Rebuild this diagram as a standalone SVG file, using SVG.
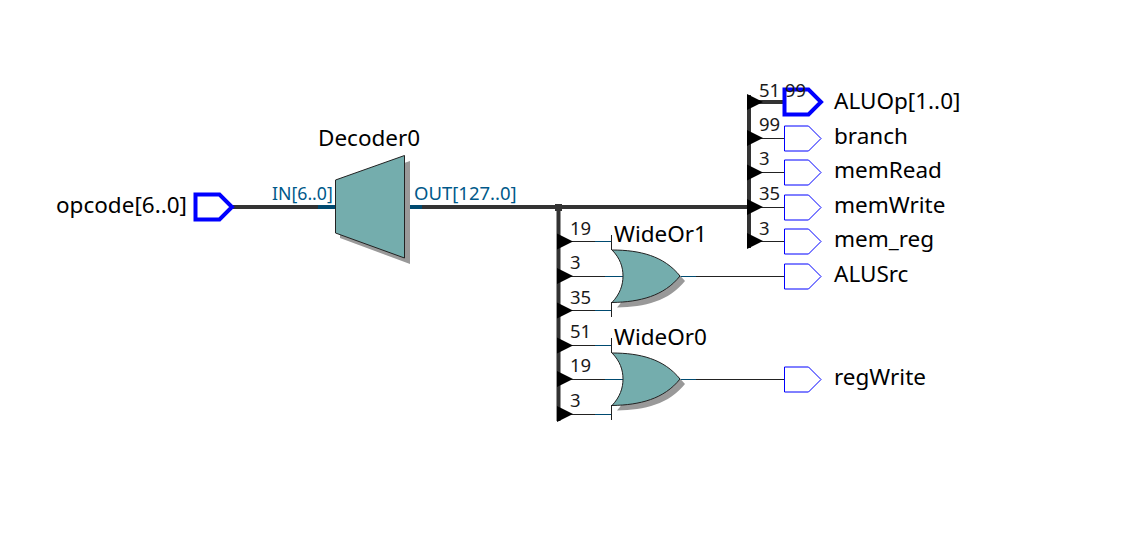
<svg xmlns="http://www.w3.org/2000/svg" width="1128" height="552" viewBox="0 0 1128 552">
<defs>
<style>
text{font-family:"Noto Sans","Open Sans","Liberation Sans",sans-serif}
.n{font-size:22.500px;fill:#000}
.b{font-size:18.500px;fill:#1a1a1a}
.p{font-size:18.500px;fill:#00598a}
.bus{stroke:#333;stroke-width:4;fill:none}
.bp{stroke:#004a70;stroke-width:4;fill:none}
.w{stroke:#222;stroke-width:1;fill:none}
.wp{stroke:#004a70;stroke-width:1;fill:none}
.port{fill:#fff;stroke:#0000ff;stroke-width:1}
.portb{fill:#fff;stroke:#0000ff;stroke-width:4}
.gate{fill:#74adad;stroke:#222;stroke-width:1}
.sh{fill:#999}
.st{stroke:#222;stroke-width:1;fill:none}
</style>
<polygon id="t" points="0,-8 16,0 0,8" fill="#000"/>
<path id="or" d="M0,0C28,0 52,6 68,26C52,46 28,52 0,52.500C8,44 11,35 11,26C11,17 8,8 0,0Z"/>
<polygon id="pt" points="0,-12.500 24,-12.500 36.500,0 24,12.500 0,12.500"/>
</defs>
<g id="connectors">
<path class="bus" d="M232,207H749M749,95V248M558.500,207V421M749,102H784"/>
<path class="bp" d="M318,207H335M404,207H422"/>
<path class="w" d="M749,138.500H784M749,172.500H784M749,207.500H784M749,241.500H784M558,241.500H612M558,276.500H623M558,310.500H612M558,345.500H612M558,379.500H623M558,414.500H612M680,276.500H784M680,379.500H784"/>
<path class="wp" d="M595,241.500H612M605,276.500H623M595,310.500H612M595,345.500H612M605,379.500H623M595,414.500H612M680,276.500H696M680,379.500H696"/>
<path class="st" d="M611.500,235V250M611.500,302V317M611.500,338V353M611.500,405V420"/>
<rect x="555" y="204" width="7" height="7" fill="#333"/>
<use href="#t" x="747" y="102"/><use href="#t" x="747" y="138"/><use href="#t" x="747" y="172.500"/><use href="#t" x="747" y="207"/><use href="#t" x="747" y="241"/>
<use href="#t" x="557" y="241.500"/><use href="#t" x="557" y="276"/><use href="#t" x="557" y="310.500"/><use href="#t" x="557" y="345.500"/><use href="#t" x="557" y="379"/><use href="#t" x="557" y="414"/>
<text class="b" x="759" y="97">51</text>
<text class="b" x="759" y="131">99</text><text class="b" x="759" y="165">3</text><text class="b" x="759" y="200">35</text><text class="b" x="759" y="235">3</text>
<text class="b" x="570" y="235">19</text><text class="b" x="570" y="269">3</text><text class="b" x="570" y="304">35</text><text class="b" x="570" y="338">51</text><text class="b" x="570" y="372">19</text><text class="b" x="570" y="407">3</text>
</g>
<g id="opcode"><use href="#pt" class="portb" x="195.500" y="207"/><text class="n" x="56" y="213">opcode[6..0]</text></g>
<g id="Decoder0">
<polygon class="sh" points="340,185 410,161 410,264 340,238"/>
<polygon class="gate" points="335.500,180 404.500,155.500 404.500,258 335.500,233"/>
<text class="n" x="318" y="146">Decoder0</text>
<text class="p" x="272" y="200" style="font-size:17.700px">IN[6..0]</text>
<text class="p" x="414" y="200">OUT[127..0]</text>
</g>
<g id="WideOr1">
<use href="#or" class="sh" x="617" y="255"/><use href="#or" class="gate" x="612" y="250"/>
<text class="n" x="614" y="242">WideOr1</text>
</g>
<g id="WideOr0">
<use href="#or" class="sh" x="617" y="358"/><use href="#or" class="gate" x="612" y="353"/>
<text class="n" x="614" y="345">WideOr0</text>
</g>
<g id="ALUOp"><use href="#pt" class="portb" x="784.500" y="102"/><text class="b" x="785" y="97">99</text><text class="n" x="834" y="109">ALUOp[1..0]</text></g>
<g id="branch"><use href="#pt" class="port" x="784.500" y="138.500"/><text class="n" x="834" y="144">branch</text></g>
<g id="memRead"><use href="#pt" class="port" x="784.500" y="172.500"/><text class="n" x="834" y="178">memRead</text></g>
<g id="memWrite"><use href="#pt" class="port" x="784.500" y="207.500"/><text class="n" x="834" y="213">memWrite</text></g>
<g id="mem_reg"><use href="#pt" class="port" x="784.500" y="241.500"/><text class="n" x="834" y="247">mem_reg</text></g>
<g id="ALUSrc"><use href="#pt" class="port" x="784.500" y="276.500"/><text class="n" x="834" y="282">ALUSrc</text></g>
<g id="regWrite"><use href="#pt" class="port" x="784.500" y="379.500"/><text class="n" x="834" y="385">regWrite</text></g>
</svg>
